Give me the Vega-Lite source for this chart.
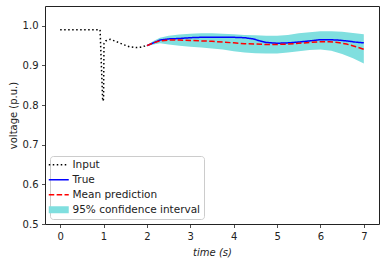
{
  "$schema": "https://vega.github.io/schema/vega-lite/v6.json",
  "width": 334,
  "height": 218,
  "autosize": {"type": "none"},
  "padding": {"left": 45, "top": 6, "right": 7, "bottom": 41},
  "background": "white",
  "config": {
    "font": "DejaVu Sans",
    "view": {"stroke": "#222222", "strokeWidth": 1},
    "axis": {
      "grid": false,
      "domain": false,
      "tickColor": "#222222",
      "tickSize": 3.5,
      "tickWidth": 0.8,
      "labelFontSize": 10,
      "labelColor": "#222222",
      "labelPadding": 3.5,
      "titleFontSize": 10,
      "titleFontWeight": "normal",
      "titleColor": "#222222"
    },
    "legend": {
      "orient": "bottom-left",
      "offset": 5,
      "symbolType": "stroke",
      "symbolSize": 400,
      "symbolStrokeWidth": 1.5,
      "labelFontSize": 10.5,
      "labelColor": "#222222",
      "padding": 3.5,
      "rowPadding": 4,
      "labelOffset": 8.5,
      "strokeColor": "#cccccc",
      "fillColor": "white",
      "cornerRadius": 3
    }
  },
  "datasets": {
    "lines": [
      {"t": 0, "v": 0.99, "series": "Input"},
      {"t": 0.5, "v": 0.99, "series": "Input"},
      {"t": 0.92, "v": 0.99, "series": "Input"},
      {"t": 0.95, "v": 0.9, "series": "Input"},
      {"t": 0.98, "v": 0.81, "series": "Input"},
      {"t": 1.0, "v": 0.815, "series": "Input"},
      {"t": 1.01, "v": 0.955, "series": "Input"},
      {"t": 1.05, "v": 0.962, "series": "Input"},
      {"t": 1.15, "v": 0.966, "series": "Input"},
      {"t": 1.3, "v": 0.96, "series": "Input"},
      {"t": 1.45, "v": 0.953, "series": "Input"},
      {"t": 1.6, "v": 0.947, "series": "Input"},
      {"t": 1.75, "v": 0.945, "series": "Input"},
      {"t": 1.85, "v": 0.946, "series": "Input"},
      {"t": 1.95, "v": 0.949, "series": "Input"},
      {"t": 2.0, "v": 0.951, "series": "Input"},
      {"t": 2.0, "v": 0.95, "series": "True"},
      {"t": 2.15, "v": 0.957, "series": "True"},
      {"t": 2.3, "v": 0.964, "series": "True"},
      {"t": 2.5, "v": 0.967, "series": "True"},
      {"t": 2.75, "v": 0.968, "series": "True"},
      {"t": 3.0, "v": 0.97, "series": "True"},
      {"t": 3.25, "v": 0.971, "series": "True"},
      {"t": 3.5, "v": 0.971, "series": "True"},
      {"t": 3.75, "v": 0.971, "series": "True"},
      {"t": 4.0, "v": 0.971, "series": "True"},
      {"t": 4.25, "v": 0.97, "series": "True"},
      {"t": 4.45, "v": 0.967, "series": "True"},
      {"t": 4.6, "v": 0.962, "series": "True"},
      {"t": 4.75, "v": 0.958, "series": "True"},
      {"t": 5.0, "v": 0.956, "series": "True"},
      {"t": 5.25, "v": 0.957, "series": "True"},
      {"t": 5.5, "v": 0.959, "series": "True"},
      {"t": 5.75, "v": 0.962, "series": "True"},
      {"t": 6.0, "v": 0.965, "series": "True"},
      {"t": 6.2, "v": 0.965, "series": "True"},
      {"t": 6.4, "v": 0.964, "series": "True"},
      {"t": 6.6, "v": 0.962, "series": "True"},
      {"t": 6.8, "v": 0.959, "series": "True"},
      {"t": 7.0, "v": 0.957, "series": "True"},
      {"t": 2.0, "v": 0.95, "series": "Mean prediction"},
      {"t": 2.15, "v": 0.957, "series": "Mean prediction"},
      {"t": 2.3, "v": 0.962, "series": "Mean prediction"},
      {"t": 2.5, "v": 0.964, "series": "Mean prediction"},
      {"t": 2.75, "v": 0.964, "series": "Mean prediction"},
      {"t": 3.0, "v": 0.963, "series": "Mean prediction"},
      {"t": 3.25, "v": 0.962, "series": "Mean prediction"},
      {"t": 3.5, "v": 0.961, "series": "Mean prediction"},
      {"t": 3.75, "v": 0.959, "series": "Mean prediction"},
      {"t": 4.0, "v": 0.957, "series": "Mean prediction"},
      {"t": 4.25, "v": 0.955, "series": "Mean prediction"},
      {"t": 4.5, "v": 0.954, "series": "Mean prediction"},
      {"t": 4.75, "v": 0.953, "series": "Mean prediction"},
      {"t": 5.0, "v": 0.953, "series": "Mean prediction"},
      {"t": 5.25, "v": 0.954, "series": "Mean prediction"},
      {"t": 5.5, "v": 0.956, "series": "Mean prediction"},
      {"t": 5.75, "v": 0.958, "series": "Mean prediction"},
      {"t": 6.0, "v": 0.96, "series": "Mean prediction"},
      {"t": 6.2, "v": 0.96, "series": "Mean prediction"},
      {"t": 6.4, "v": 0.958, "series": "Mean prediction"},
      {"t": 6.6, "v": 0.954, "series": "Mean prediction"},
      {"t": 6.8, "v": 0.948, "series": "Mean prediction"},
      {"t": 7.0, "v": 0.941, "series": "Mean prediction"}
    ],
    "band": [
      {"t": 2.0, "lo": 0.949, "hi": 0.951},
      {"t": 2.15, "lo": 0.953, "hi": 0.962},
      {"t": 2.3, "lo": 0.956, "hi": 0.97},
      {"t": 2.5, "lo": 0.953, "hi": 0.975},
      {"t": 2.75, "lo": 0.95, "hi": 0.978},
      {"t": 3.0, "lo": 0.947, "hi": 0.98},
      {"t": 3.25, "lo": 0.945, "hi": 0.981},
      {"t": 3.5, "lo": 0.943, "hi": 0.981},
      {"t": 3.75, "lo": 0.94, "hi": 0.98},
      {"t": 4.0, "lo": 0.936, "hi": 0.979},
      {"t": 4.25, "lo": 0.933, "hi": 0.977},
      {"t": 4.5, "lo": 0.931, "hi": 0.976},
      {"t": 4.75, "lo": 0.93, "hi": 0.975},
      {"t": 5.0, "lo": 0.93, "hi": 0.975},
      {"t": 5.25, "lo": 0.933, "hi": 0.977},
      {"t": 5.5, "lo": 0.936, "hi": 0.981},
      {"t": 5.75, "lo": 0.939, "hi": 0.984},
      {"t": 6.0, "lo": 0.94, "hi": 0.986},
      {"t": 6.25, "lo": 0.937, "hi": 0.986},
      {"t": 6.5, "lo": 0.929, "hi": 0.985},
      {"t": 6.75, "lo": 0.918, "hi": 0.982},
      {"t": 7.0, "lo": 0.905, "hi": 0.979}
    ]
  },
  "layer": [
    {
      "data": {"name": "band"},
      "mark": {"type": "area", "color": "#80dfdf", "opacity": 1},
      "encoding": {
        "x": {"field": "t", "type": "quantitative", "scale": {"domain": [-0.35, 7.35], "nice": false, "zero": false},
              "axis": {"values": [0, 1, 2, 3, 4, 5, 6, 7], "format": "d", "title": "time (s)", "titleFontStyle": "italic", "titlePadding": 6}},
        "y": {"field": "lo", "type": "quantitative", "scale": {"domain": [0.5, 1.05], "nice": false, "zero": false},
              "axis": {"values": [0.5, 0.6, 0.7, 0.8, 0.9, 1.0], "format": ".1f", "title": "voltage (p.u.)", "titlePadding": 4}},
        "y2": {"field": "hi"}
      }
    },
    {
      "data": {"name": "lines"},
      "mark": {"type": "line", "strokeWidth": 1.5},
      "encoding": {
        "x": {"field": "t", "type": "quantitative"},
        "y": {"field": "v", "type": "quantitative"},
        "color": {
          "field": "series", "type": "nominal",
          "scale": {"domain": ["Input", "True", "Mean prediction", "95% confidence interval"], "range": ["#000000", "#0000ff", "#ff0000", "#80dfdf"]},
          "legend": {"title": null, "encode": {"symbols": {"update": {
            "shape": {"signal": "datum.value === '95% confidence interval' ? 'M-1,-0.35H1V0.35H-1Z' : 'stroke'"},
            "fill": {"signal": "datum.value === '95% confidence interval' ? '#80dfdf' : 'transparent'"},
            "strokeWidth": {"signal": "datum.value === '95% confidence interval' ? 0 : 1.5"}
          }}}}
        },
        "strokeDash": {
          "field": "series", "type": "nominal",
          "scale": {"domain": ["Input", "True", "Mean prediction", "95% confidence interval"], "range": [[1.5, 2.5], [1, 0], [5.5, 2.4], [1, 0]]},
          "legend": {"title": null}
        }
      }
    }
  ]
}
